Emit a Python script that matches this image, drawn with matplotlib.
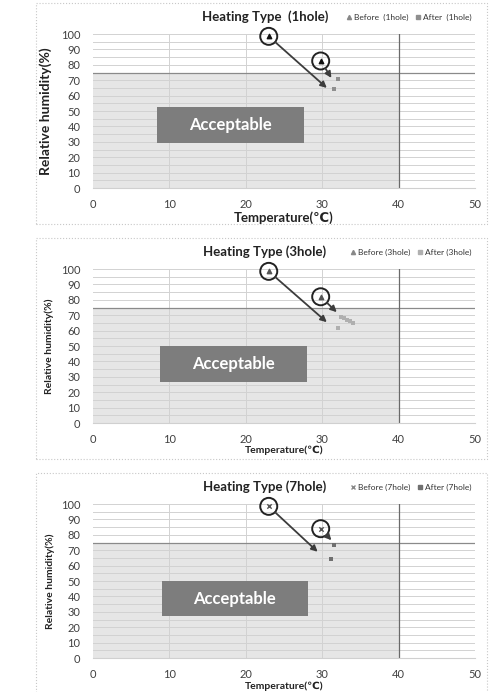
import matplotlib
matplotlib.use("Agg")
import matplotlib.pyplot as plt
from matplotlib.patches import Rectangle
from matplotlib.lines import Line2D

plt.rcParams['font.family'] = ['Lato', 'DejaVu Sans']

# data
holes = ['1hole', '3hole', '7hole']
before_x = [[23.0, 29.8], [23.0, 29.8], [23.0, 29.8]]
before_y = [[98.5, 82.5], [98.5, 82.0], [98.5, 84.0]]
after_x = [[31.5, 32.0], [32.0, 32.4, 32.8, 33.2, 33.6, 34.0], [31.1, 31.6]]
after_y = [[64.0, 71.0], [61.7, 69.0, 68.0, 67.0, 66.0, 65.0], [64.5, 73.5]]
arrow_end_x = [[30.6, 31.2], [30.6, 31.9], [29.4, 31.2]]
arrow_end_y = [[65.0, 71.5], [65.5, 72.0], [69.0, 76.5]]
before_marker = ['^', '^', 'x']
before_color = ['#111111', '#555555', '#555555']
after_color = ['#8f8f8f', '#b0b0b0', '#707070']
box_x = [(8.4, 27.6), (8.8, 28.0), (9.0, 28.1)]
box_y = [(29.0, 52.8), (26.6, 50.0), (27.0, 50.0)]
title_sep = ['  ', ' ', ' ']
ok_temp = 40
ok_rh = 75

fig = plt.figure(figsize=(4.94, 6.92), dpi=100)

frame_bottoms = [0.676, 0.3367, -0.01]
frame_heights = [0.319, 0.319, 0.326]
ax_bottoms = [0.7283, 0.3887, 0.0491]
ylab_x = [-0.107, -0.102, -0.10]
ylab_size = [10, 7.5, 7.5]
xlab_y = [-0.19, -0.175, -0.182]
xlab_size = [9.5, 7.5, 7.5]

for i in range(3):
    fig.patches.append(Rectangle((0.0729, frame_bottoms[i]), 0.913, frame_heights[i],
                                 transform=fig.transFigure, fill=False,
                                 edgecolor='#c8c8c8', linewidth=0.8, linestyle=':'))
    ax = fig.add_axes([0.1883, ax_bottoms[i], 0.7733, 0.2225])
    ax.set_xlim(0, 50)
    ax.set_ylim(0, 100)

    # acceptable zone
    ax.add_patch(Rectangle((0, 0), ok_temp, ok_rh, facecolor='#e6e6e6',
                           edgecolor='none', zorder=0))

    # grid
    for yv in range(5, 101, 5):
        ax.axhline(yv, color='#d2d2d2', linewidth=0.7, zorder=1)
    for xv in [10, 20, 30, 50]:
        ax.axvline(xv, color='#d2d2d2', linewidth=0.7, zorder=1)

    ax.axhline(ok_rh, color='#8a8a8a', linewidth=0.9, zorder=2)
    ax.axvline(ok_temp, color='#6a6a6a', linewidth=0.9, zorder=2)
    bx0, bx1 = box_x[i]
    by0, by1 = box_y[i]
    ax.add_patch(Rectangle((bx0, by0), bx1 - bx0, by1 - by0, facecolor='#7d7d7d',
                           edgecolor='none', zorder=3))
    ax.text((bx0 + bx1) / 2, (by0 + by1) / 2, 'Acceptable', color='white',
            fontsize=12, fontweight='bold', ha='center', va='center', zorder=4)

    # points
    ax.scatter(after_x[i], after_y[i], marker='s', s=7, color=after_color[i],
               zorder=5, linewidths=0)
    ax.scatter(before_x[i], before_y[i], marker=before_marker[i], s=10,
               color=before_color[i], zorder=6, linewidths=1, clip_on=False)
    ax.scatter(before_x[i], before_y[i], marker='o', s=150, facecolors='none',
               edgecolors='#222222', linewidths=1.4, zorder=6, clip_on=False)
    for k in range(2):
        ax.annotate('', xy=(arrow_end_x[i][k], arrow_end_y[i][k]),
                    xytext=(before_x[i][k], before_y[i][k]),
                    arrowprops=dict(arrowstyle='-|>', color='#3c3c3c', lw=1.3,
                                    shrinkA=6.5, shrinkB=0, mutation_scale=9),
                    zorder=7)

    # axes style
    for s in ['top', 'right', 'left']:
        ax.spines[s].set_visible(False)
    ax.spines['bottom'].set_color('#d0d0d0')
    ax.set_xticks([0, 10, 20, 30, 40, 50])
    ax.set_yticks(range(0, 101, 10))
    ax.tick_params(length=0, labelsize=8, colors='#404040')
    ax.tick_params(axis='y', pad=9)
    ax.tick_params(axis='x', pad=8)

    ax.set_ylabel('Relative humidity(%)', fontsize=ylab_size[i], fontweight='bold',
                  color='#222222')
    ax.yaxis.set_label_coords(ylab_x[i], 0.5)
    ax.set_xlabel('Temperature(\u2103)', fontsize=xlab_size[i], fontweight='bold',
                  color='#222222', va='center')
    ax.xaxis.set_label_coords(0.5, xlab_y[i])

    ax.text(0.45, 1.115, 'Heating Type' + title_sep[i] + '(' + holes[i] + ')',
            transform=ax.transAxes, ha='center', va='center', fontsize=9.5,
            fontweight='bold', color='#222222')

    handles = [Line2D([], [], linestyle='none', marker=before_marker[i],
                      color='#888888', markersize=3),
               Line2D([], [], linestyle='none', marker='s',
                      color=after_color[i], markersize=3)]
    ax.legend(handles, ['Before' + title_sep[i] + '(' + holes[i] + ')',
                        'After' + title_sep[i] + '(' + holes[i] + ')'],
              loc='center right', bbox_to_anchor=(1.0, 1.11), ncol=2, frameon=False,
              fontsize=6, handletextpad=0.2, columnspacing=0.8, handlelength=0.8,
              borderaxespad=0, labelcolor='#333333')

fig.savefig('out.png', dpi=100)
